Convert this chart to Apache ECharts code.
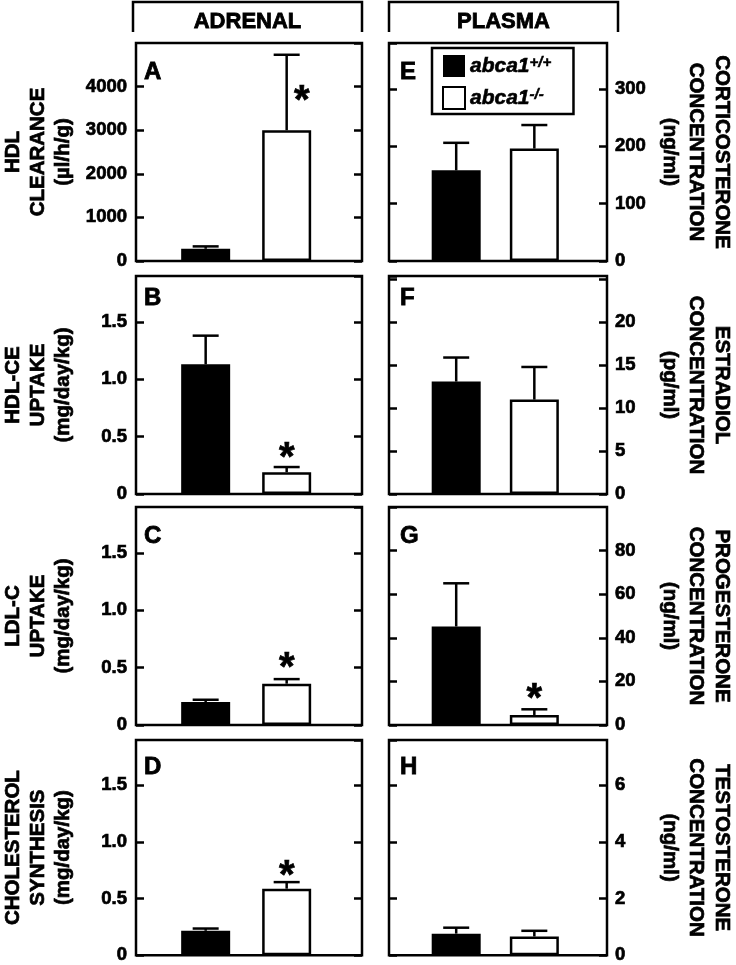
<!DOCTYPE html>
<html>
<head>
<meta charset="utf-8">
<script src="https://cdn.jsdelivr.net/npm/echarts@6/dist/echarts.min.js"></script>
<style>
html,body{margin:0;padding:0;background:#fff;}
#chart{width:736px;height:965px;}
</style>
</head>
<body>
<div id="chart"></div>
<script>
// ---------- data ----------
const groups = ['abca1+/+', 'abca1-/-'];
const panelLetters = ['A', 'B', 'C', 'D', 'E', 'F', 'G', 'H'];
const sectionTitles = ['ADRENAL', 'PLASMA'];
const axisTitles = [
  'HDL\nCLEARANCE\n(µl/h/g)',
  'HDL-CE\nUPTAKE\n(mg/day/kg)',
  'LDL-C\nUPTAKE\n(mg/day/kg)',
  'CHOLESTEROL\nSYNTHESIS\n(mg/day/kg)',
  'CORTICOSTERONE\nCONCENTRATION\n(ng/ml)',
  'ESTRADIOL\nCONCENTRATION\n(pg/ml)',
  'PROGESTERONE\nCONCENTRATION\n(ng/ml)',
  'TESTOSTERONE\nCONCENTRATION\n(ng/ml)'
];
const yMax = [5000, 1.9, 1.9, 1.9, 380, 25.4, 100, 7.6];
const yInterval = [1000, 0.5, 0.5, 0.5, 100, 5, 20, 2];
const tickLabels = [
  ['0', '1000', '2000', '3000', '4000'],
  ['0', '0.5', '1.0', '1.5'],
  ['0', '0.5', '1.0', '1.5'],
  ['0', '0.5', '1.0', '1.5'],
  ['0', '100', '200', '300'],
  ['0', '5', '10', '15', '20'],
  ['0', '20', '40', '60', '80'],
  ['0', '2', '4', '6']
];
const wtMean = [280, 1.13, 0.20, 0.215, 158, 13.1, 45.2, 0.76];
const wtSem  = [55, 0.25, 0.02, 0.02, 48, 2.8, 19.8, 0.21];
const koMean = [3000, 0.19, 0.36, 0.587, 196, 11.0, 4.6, 0.66];
const koSem  = [1730, 0.045, 0.04, 0.058, 41, 3.8, 2.6, 0.20];
const starValue = [3850, 0.38, 0.563, 0.767, null, null, 15.8, null];

// ---------- layout ----------
const FONT = "'Liberation Sans', Arial, Helvetica, sans-serif";
const colLeft = [133, 389];
const colWidth = 229;
const rowTop = [43, 276, 507, 740];
const rowHeight = 218;
const letterDy = [17, 10, 17, 15];
const LW = 2.5;
const HEAVY = { textBorderColor: '#000', textBorderWidth: 0.7 };

const chart = echarts.init(document.getElementById('chart'));

const grids = [], xAxes = [], yAxes = [], series = [], graphics = [];

for (let i = 0; i < 8; i++) {
  const col = i < 4 ? 0 : 1;
  const row = i % 4;
  grids.push({
    left: colLeft[col], top: rowTop[row], width: colWidth, height: rowHeight,
    show: true, borderColor: '#000', borderWidth: LW, backgroundColor: 'transparent'
  });
  xAxes.push({
    gridIndex: i, type: 'value', min: -0.86, max: 1.93, show: false
  });
  const labels = tickLabels[i];
  const iv = yInterval[i];
  const fmt = (v) => {
    const k = Math.round(v / iv);
    if (Math.abs(v - k * iv) > iv * 1e-6) return '';
    return labels[k] !== undefined ? labels[k] : '';
  };
  const base = {
    gridIndex: i, type: 'value', min: 0, max: yMax[i], interval: iv,
    axisLine: { show: false, onZero: false },
    axisTick: { show: true, inside: true, length: 8, lineStyle: { color: '#000', width: LW } },
    splitLine: { show: false },
  };
  const labelStyle = Object.assign({
    show: true, formatter: fmt, showMaxLabel: false, margin: 9,
    color: '#000', fontFamily: FONT, fontWeight: 'bold', fontSize: 18.5
  }, HEAVY);
  const nameStyle = Object.assign({
    color: '#000', fontFamily: FONT, fontWeight: 'bold', fontSize: 20.5
  }, HEAVY);
  // left axis
  yAxes.push(Object.assign({}, base, {
    position: 'left',
    axisLabel: col === 0 ? labelStyle : { show: false },
    name: col === 0 ? axisTitles[i] : '',
    nameLocation: 'middle', nameRotate: 90, nameGap: 60,
    nameTextStyle: Object.assign({ lineHeight: 25 }, nameStyle)
  }));
  // right axis
  yAxes.push(Object.assign({}, base, {
    position: 'right',
    axisLabel: col === 1 ? Object.assign({}, labelStyle, { margin: 8 }) : { show: false },
    name: col === 1 ? axisTitles[i] : '',
    nameLocation: 'middle', nameRotate: -90, nameGap: 50,
    nameTextStyle: Object.assign({ lineHeight: 26 }, nameStyle)
  }));

  series.push({
    name: groups[0], type: 'bar', xAxisIndex: i, yAxisIndex: 2 * i,
    data: [[0, wtMean[i]]], barWidth: 49, barGap: '-100%',
    itemStyle: { color: '#000', borderColor: '#000', borderWidth: 0 },
    silent: true, z: 3
  });
  series.push({
    name: groups[1], type: 'bar', xAxisIndex: i, yAxisIndex: 2 * i,
    data: [[1, koMean[i]]], barWidth: 49, barGap: '-100%',
    itemStyle: { color: '#fff', borderColor: '#000', borderWidth: LW },
    silent: true, z: 3
  });
  series.push({
    type: 'custom', xAxisIndex: i, yAxisIndex: 2 * i, silent: true, z: 4,
    data: [[0, wtMean[i], wtMean[i] + wtSem[i]], [1, koMean[i], koMean[i] + koSem[i]]],
    encode: { x: 0, y: [1, 2] },
    renderItem: (params, api) => {
      const x = api.value(0), m = api.value(1), t = api.value(2);
      const p0 = api.coord([x, m]);
      const p1 = api.coord([x, t]);
      return {
        type: 'group', children: [
          { type: 'line', shape: { x1: p0[0], y1: p0[1], x2: p1[0], y2: p1[1] }, style: { stroke: '#000', lineWidth: LW } },
          { type: 'line', shape: { x1: p1[0] - 13, y1: p1[1], x2: p1[0] + 13, y2: p1[1] }, style: { stroke: '#000', lineWidth: LW } }
        ]
      };
    }
  });
  if (starValue[i] !== null) {
    series.push({
      type: 'scatter', xAxisIndex: i, yAxisIndex: 2 * i, silent: true, z: 5,
      data: [[1, starValue[i]]], symbolSize: 1,
      itemStyle: { color: 'rgba(255,255,255,0)', opacity: 1 },
      label: Object.assign({
        show: true, formatter: '*', position: 'inside',
        offset: [i === 0 ? 15 : 0, 9],
        color: '#000', opacity: 1, fontFamily: FONT, fontWeight: 'bold', fontSize: 40
      }, HEAVY)
    });
  }
  graphics.push({
    type: 'text', silent: true,
    style: Object.assign({
      text: panelLetters[i], x: colLeft[col] + 11, y: rowTop[row] + letterDy[row],
      fill: '#000', fontFamily: FONT, fontWeight: 'bold', fontSize: 24,
      align: 'left', verticalAlign: 'top'
    }, { stroke: '#000', lineWidth: 0.8 })
  });
}

for (let c = 0; c < 2; c++) {
  const x0 = colLeft[c], x1 = colLeft[c] + colWidth;
  graphics.push({
    type: 'polyline', silent: true,
    shape: { points: [[x0, 32], [x0, 2], [x1, 2], [x1, 32]] },
    style: { stroke: '#000', lineWidth: LW, fill: null }
  });
  graphics.push({
    type: 'text', silent: true,
    style: {
      text: sectionTitles[c], x: (x0 + x1) / 2, y: 22,
      fill: '#000', fontFamily: FONT, fontWeight: 'bold', fontSize: 22,
      align: 'center', verticalAlign: 'middle', stroke: '#000', lineWidth: 0.8
    }
  });
}

chart.setOption({
  animation: false,
  backgroundColor: '#fff',
  grid: grids,
  xAxis: xAxes,
  yAxis: yAxes,
  series: series,
  graphic: graphics,
  legend: {
    left: 432, top: 48, orient: 'vertical', selectedMode: false,
    padding: [7, 22, 4, 10], itemGap: 9, itemWidth: 22, itemHeight: 22,
    borderColor: '#000', borderWidth: LW, backgroundColor: '#fff',
    data: [
      { name: groups[0], icon: 'rect', itemStyle: { color: '#000', borderColor: '#000', borderWidth: 0 } },
      { name: groups[1], icon: 'rect', itemStyle: { color: '#fff', borderColor: '#000', borderWidth: 2 } }
    ],
    formatter: (name) => '{a|abca1}{s|' + name.slice(5) + '}',
    textStyle: {
      color: '#000',
      rich: {
        a: { fontFamily: FONT, fontWeight: 'bold', fontStyle: 'italic', fontSize: 21, lineHeight: 21, color: '#000', textBorderColor: '#000', textBorderWidth: 0.6 },
        s: { fontFamily: FONT, fontWeight: 'bold', fontStyle: 'italic', fontSize: 15, lineHeight: 13, verticalAlign: 'top', color: '#000', textBorderColor: '#000', textBorderWidth: 0.5 }
      }
    }
  }
});
</script>
</body>
</html>
